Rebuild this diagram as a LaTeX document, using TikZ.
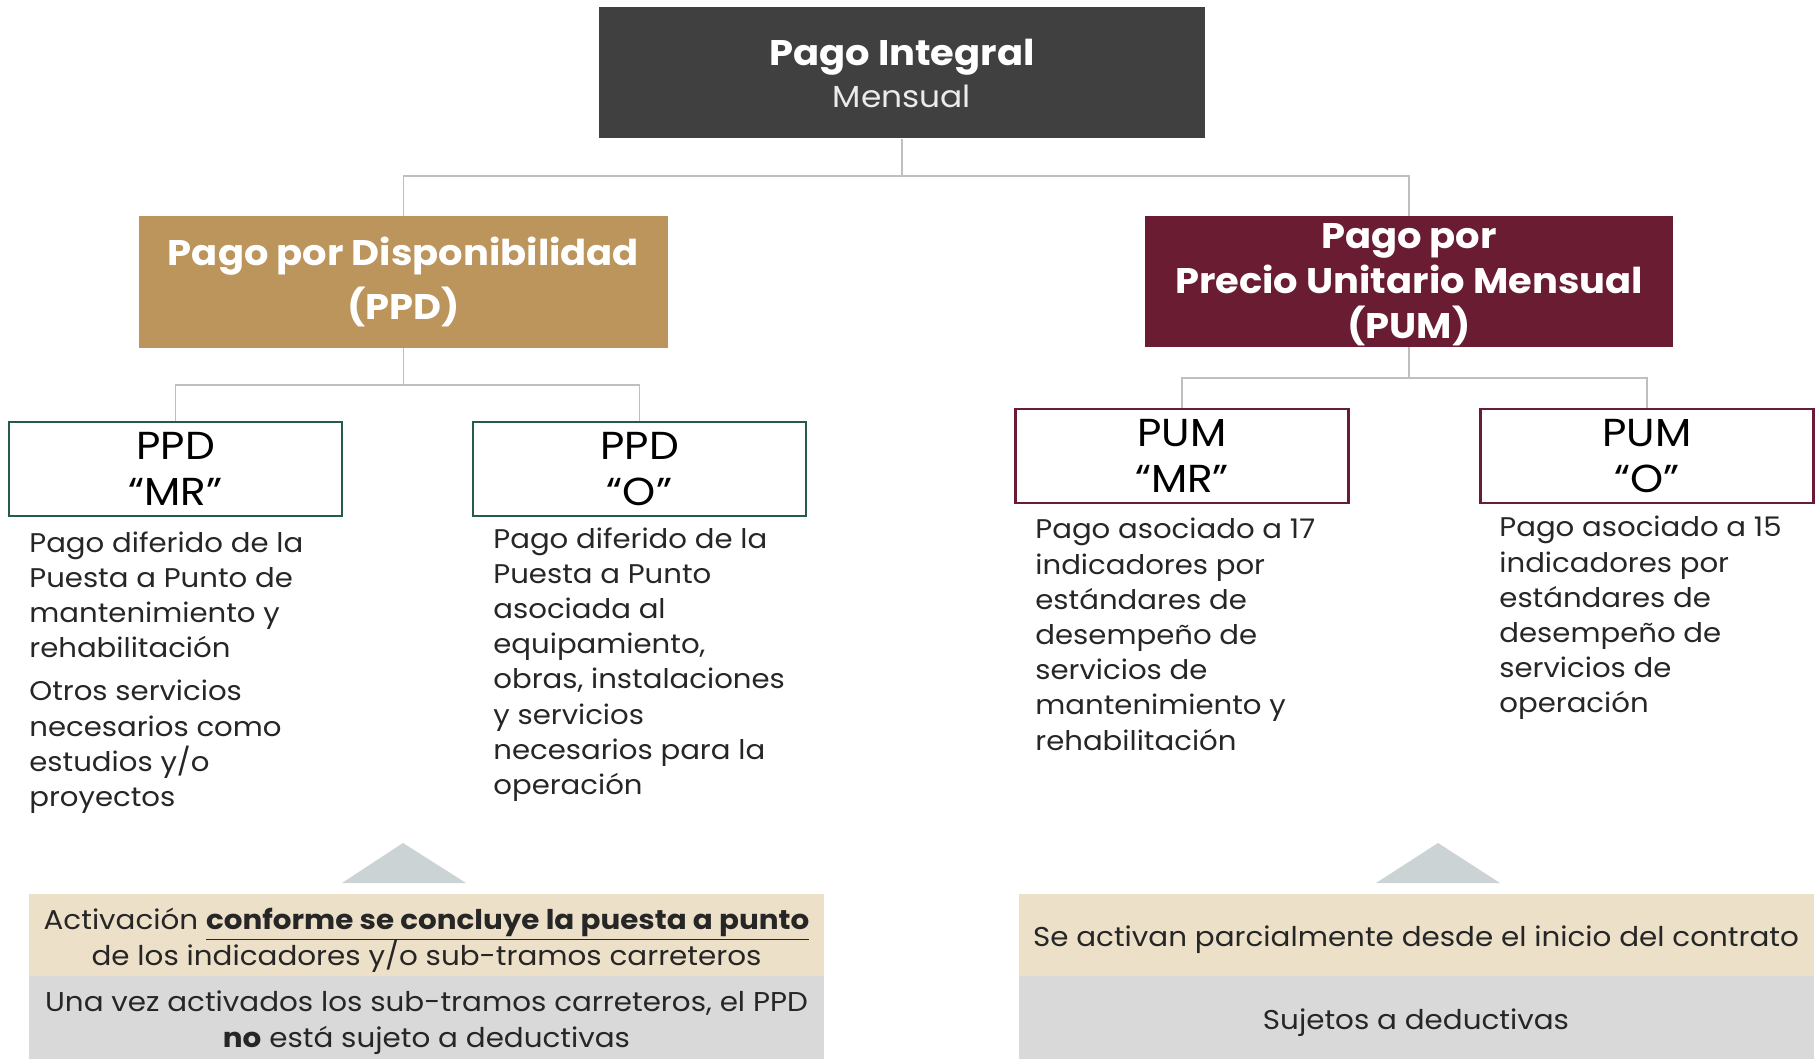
\documentclass[tikz,border=0pt]{standalone}
\usepackage{fontspec}
\setmainfont{Poppins}[FakeStretch=1.08]
\usetikzlibrary{positioning}
\definecolor{grisobs}{HTML}{404040}
\definecolor{oro}{HTML}{BC955C}
\definecolor{guinda}{HTML}{691C32}
\definecolor{verde}{HTML}{235B4E}
\definecolor{linea}{HTML}{BFBFBF}
\definecolor{arena}{HTML}{EDE0C9}
\definecolor{plata}{HTML}{D9D9D9}
\definecolor{tri}{HTML}{CCD3D5}
\definecolor{texto}{HTML}{262626}
\begin{document}
\begin{tikzpicture}[x=0.5pt,y=-0.5pt,
    titulo/.style={text=white,align=center,font=\fontsize{17.8}{27}\selectfont\bfseries,inner sep=0pt},
    caja/.style={draw,line width=1.1pt,fill=white,minimum width=166.5pt,minimum height=47pt,align=center,
      text=black,font=\fontsize{19.5}{23}\selectfont,inner sep=0pt},
    cuerpo/.style={anchor=north west,align=left,text=texto,inner sep=0pt,font=\fontsize{13.5}{17.6}\selectfont},
    banda/.style={minimum width=397.5pt,minimum height=41.5pt,inner sep=0pt},
    bandatxt/.style={align=center,text=texto,inner sep=0pt,font=\fontsize{13.6}{18}\selectfont},
    conector/.style={draw=linea,line width=0.8pt}]
  \useasboundingbox (0,0) rectangle (1818,1059);

  % nivel 1
  \node[titulo,fill=grisobs,minimum width=303pt,minimum height=65.5pt,
    font=\fontsize{17.8}{21}\selectfont] (PI) at (902,73)
    {\textbf{Pago Integral}\\\mdseries\fontsize{15.2}{21}\selectfont\color{white!92!black}Mensual};

  % nivel 2
  \node[titulo,fill=oro,minimum width=264.5pt,minimum height=65.5pt] (PPD) at (403.5,282)
    {Pago por Disponibilidad\\(PPD)};
  \node[titulo,fill=guinda,minimum width=264pt,minimum height=65.5pt] (PUM) at (1409,281.5) {};
  \node[titulo,font=\fontsize{17.8}{22.5}\selectfont\bfseries] (tPUM) at (1409,285)
    {Pago por\\Precio Unitario Mensual\\(PUM)};

  % nivel 3
  \node[caja,draw=verde] (PPDMR) at (175.5,469) {PPD\\“MR”};
  \node[caja,draw=verde] (PPDO) at (639.5,469) {PPD\\“O”};
  \node[caja,draw=guinda] (PUMMR) at (1182,456) {PUM\\“MR”};
  \node[caja,draw=guinda] (PUMO) at (1647,456) {PUM\\“O”};

  % conectores
  \coordinate (b1) at (902,176);
  \coordinate (b2) at (403.5,385);
  \coordinate (b3) at (1409,378);
  \draw[conector] (PI.south) -- (b1) -| (PPD.north);
  \draw[conector] (b1) -| (PUM.north);
  \draw[conector] (PPD.south) -- (b2) -| (PPDMR.north);
  \draw[conector] (b2) -| (PPDO.north);
  \draw[conector] (PUM.south) -- (b3) -| (PUMMR.north);
  \draw[conector] (b3) -| (PUMO.north);

  % descripciones
  \node[cuerpo] (dPPDMR) at (29,531) {Pago diferido de la\\Puesta a Punto de\\mantenimiento y\\rehabilitación\\[4pt]
    Otros servicios\\necesarios como\\estudios y/o\\proyectos};
  \node[cuerpo] (dPPDO) at (493,527) {Pago diferido de la\\Puesta a Punto\\asociada al\\equipamiento,\\
    obras, instalaciones\\y servicios\\necesarios para la\\operación};
  \node[cuerpo] (dPUMMR) at (1035,518) {Pago asociado a 17\\indicadores por\\estándares de\\desempeño de\\
    servicios de\\mantenimiento y\\rehabilitación};
  \node[cuerpo] (dPUMO) at (1499,516) {Pago asociado a 15\\indicadores por\\estándares de\\desempeño de\\
    servicios de\\operación};

  % flechas
  \fill[tri] (403,843) -- (466,883) -- (342,883) -- cycle;
  \fill[tri] (1438,843) -- (1500,883) -- (1376,883) -- cycle;

  % bandas inferiores
  \node[banda,fill=arena,minimum height=41pt] (actPPD) at (426.5,935) {};
  \node[banda,fill=plata] (dedPPD) at (426.5,1017.5) {};
  \node[banda,fill=arena,minimum height=41pt] (actPUM) at (1416,935) {};
  \node[banda,fill=plata] (dedPUM) at (1416,1017.5) {};
  \node[bandatxt] (tactPPD) at (426.5,940)
    {Activación \smash{\underline{\textbf{conforme se concluye la puesta a punto}}}\\de los indicadores y/o sub-tramos carreteros};
  \node[bandatxt] (tdedPPD) at (426.5,1022.5)
    {Una vez activados los sub-tramos carreteros, el PPD\\\textbf{no} está sujeto a deductivas};
  \node[bandatxt] (tactPUM) at (1416,940) {Se activan parcialmente desde el inicio del contrato};
  \node[bandatxt] (tdedPUM) at (1416,1022.5) {Sujetos a deductivas};
\end{tikzpicture}
\end{document}
